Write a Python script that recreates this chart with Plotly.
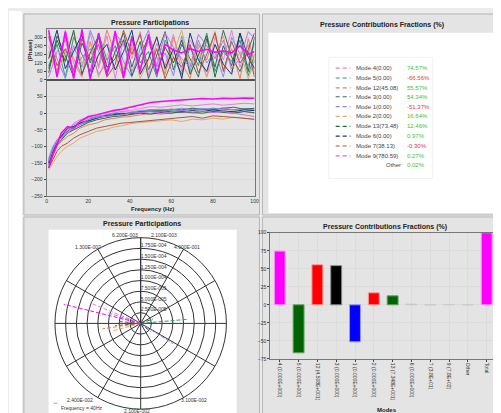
import plotly.graph_objects as go

W, H = 501, 413
def px(x): return x / W
def py(y): return 1 - y / H

FONT = "Liberation Sans"

# ---------------- data ----------------
modes = ["Mode 4(0.00)", "Mode 5(0.00)", "Mode 12(45.08)", "Mode 3(0.00)", "Mode 1(0.00)",
         "Mode 2(0.00)", "Mode 13(73.48)", "Mode 6(0.00)", "Mode 7(38.13)", "Mode 9(780.59)"]
mode_colors = ["#e77fd9", "#2f9a7a", "#e8825a", "#3f6464", "#8a8ae8",
               "#e0a870", "#1f6a40", "#22307e", "#a8583a", "#c070e8"]
fractions = [74.57, -66.56, 55.57, 54.34, -51.37, 16.64, 12.46, 0.97, -0.30, 0.27]
other_fraction = 0.02

phase_freq = [1, 5, 9, 13, 17, 21, 25, 29, 33, 37, 41, 45, 49, 53, 57, 61, 65, 69, 73, 77, 81, 85, 89, 93, 97, 100]
phase_total = [350, 20, 340, 10, 355, 5, 330, 30, 345, 15, 300, 60, 320, 40, 250, 210, 190, 220, 200, 215, 195, 205, 190, 240, 180, 200]
phase_modes = [
    [300, 40, 350, 120, 20, 330, 80, 310, 10, 290, 150, 340, 30, 260, 100, 320, 60, 280, 180, 20, 300, 140, 350, 90, 250, 40],
    [100, 250, 20, 300, 180, 60, 330, 140, 240, 50, 310, 120, 200, 20, 280, 160, 40, 230, 100, 330, 60, 200, 130, 280, 30, 180],
    [200, 60, 300, 150, 30, 270, 100, 350, 180, 10, 230, 80, 320, 160, 40, 300, 120, 10, 250, 140, 340, 70, 220, 10, 290, 120],
    [50, 310, 170, 20, 260, 120, 300, 40, 200, 330, 90, 270, 10, 180, 340, 70, 250, 150, 20, 290, 90, 350, 160, 60, 220, 330],
    [330, 150, 10, 240, 90, 350, 200, 60, 300, 130, 20, 220, 350, 90, 190, 30, 310, 60, 280, 120, 200, 20, 300, 180, 100, 260],
    [240, 30, 190, 330, 110, 260, 20, 170, 300, 80, 250, 10, 140, 310, 60, 190, 350, 100, 230, 20, 170, 310, 60, 200, 10, 140],
    [80, 280, 130, 350, 40, 190, 310, 90, 150, 280, 30, 160, 300, 50, 230, 120, 280, 40, 170, 310, 20, 240, 100, 330, 60, 300],
    [150, 350, 80, 200, 320, 20, 180, 250, 70, 200, 350, 40, 150, 300, 80, 220, 10, 330, 140, 60, 250, 110, 40, 330, 160, 80],
    [310, 100, 220, 70, 290, 140, 250, 20, 110, 350, 180, 320, 70, 220, 10, 160, 90, 250, 50, 180, 330, 60, 270, 120, 200, 20],
    [20, 200, 280, 60, 160, 220, 40, 120, 330, 250, 60, 180, 270, 100, 330, 230, 150, 90, 320, 240, 150, 280, 80, 150, 340, 290],
]

mag_freq = [1, 3, 5, 7, 10, 13, 16, 20, 24, 28, 32, 36, 40, 45, 50, 55, 60, 65, 70, 75, 80, 85, 90, 95, 100]
mag_total = [-165, -125, -95, -60, -40, -45, -25, -10, -5, 2, 8, 12, 18, 25, 32, 35, 38, 40, 42, 44, 43, 45, 44, 46, 45]
mag_modes = [
    [-150, -115, -80, -65, -55, -30, -20, -12, -5, 0, 5, 10, 8, 15, 20, 18, 22, 25, 22, 26, 28, 24, 27, 30, 28],
    [-140, -105, -85, -75, -60, -45, -35, -25, -15, -10, -5, -2, 0, 5, 8, 5, 10, 8, 12, 10, 15, 12, 10, 14, 12],
    [-160, -130, -100, -85, -70, -60, -45, -35, -30, -20, -15, -12, -10, -5, 0, -3, 2, 5, 0, 5, 3, 8, 2, 5, 0],
    [-145, -110, -90, -70, -55, -40, -30, -20, -10, -8, 0, -5, 2, 5, 10, 8, 12, 10, 15, 12, 10, 15, 18, 12, 15],
    [-135, -100, -80, -75, -50, -35, -25, -15, -10, -5, 0, 5, 3, 8, 10, 12, 10, 15, 10, 14, 12, 16, 10, 12, 8],
    [-170, -150, -130, -115, -100, -90, -75, -65, -55, -50, -42, -38, -32, -28, -25, -22, -20, -25, -18, -20, -15, -18, -12, -15, -20],
    [-155, -120, -95, -80, -60, -50, -40, -28, -20, -15, -10, -8, -5, 0, -3, 2, 0, 5, 2, 0, 5, 3, 0, 5, 2],
    [-150, -115, -90, -70, -45, -40, -30, -22, -15, -8, -5, 0, -2, 3, 5, 2, 6, 3, 8, 5, 10, 6, 5, 10, 8],
    [-165, -140, -115, -100, -90, -75, -65, -55, -45, -40, -35, -30, -28, -25, -20, -18, -15, -12, -10, -15, -8, -10, -12, -15, -18],
    [-145, -110, -85, -75, -60, -45, -35, -20, -12, -10, -8, -5, 0, 3, 5, 0, 5, 8, 3, 6, 2, 5, 0, -5, -10],
]

polar_r_total, polar_theta_total = 1.85e-4, 166
polar_r = [1.25e-4, 1.1e-4, 0.9e-4, 0.5e-4, 0.9e-4, 0.7e-4, 0.3e-4, 0.3e-4, 0.6e-4, 0.8e-4]
polar_theta = [158, 5, 188, 175, -32, 195, 20, -40, 185, 162]
radial_ticks = [2.5e-5, 5e-5, 7.5e-5, 1e-4, 1.25e-4, 1.5e-4, 1.75e-4]
radial_labels = ["2.500E-005", "5.000E-005", "7.500E-005", "1.000E-004", "1.250E-004", "1.500E-004", "1.750E-004"]

bar_labels = ["4 (0.000E+000)", "5 (0.000E+000)", "12 (4.508E+001)", "3 (0.000E+000)", "1 (0.000E+000)",
              "2 (0.000E+000)", "13 (7.348E+001)", "6 (0.000E+000)", "7 (3.8E+01)", "9 (7.8E+02)", "Other", "Total"]
bar_values = [74.57, -66.56, 55.57, 54.34, -51.37, 16.64, 12.46, 0.97, -0.30, 0.27, 0.02, 100.0]
bar_colors = ["#ff00ff", "#006400", "#ff0000", "#000000", "#0000ff", "#ff0000", "#006400",
              "#9a9a9a", "#9a9a9a", "#9a9a9a", "#9a9a9a", "#ff00ff"]
bar_edge = ["#ff99ff", "#66a066", "#ff9999", "#888888", "#9999ff", "#ff9999", "#66a066",
            "#cccccc", "#cccccc", "#cccccc", "#cccccc", "#ff99ff"]

# ---------------- figure ----------------
fig = go.Figure()

for vals, col in zip(phase_modes, mode_colors):
    fig.add_trace(go.Scatter(x=phase_freq, y=vals, mode="lines", line=dict(color=col, width=1),
                             xaxis="x", yaxis="y", showlegend=False, hoverinfo="skip"))
fig.add_trace(go.Scatter(x=phase_freq, y=phase_total, mode="lines", line=dict(color="#ff00ff", width=1.5),
                         xaxis="x", yaxis="y", showlegend=False, hoverinfo="skip"))
for vals, col in zip(mag_modes, mode_colors):
    fig.add_trace(go.Scatter(x=mag_freq, y=vals, mode="lines", line=dict(color=col, width=1),
                             xaxis="x2", yaxis="y2", showlegend=False, hoverinfo="skip"))
fig.add_trace(go.Scatter(x=mag_freq, y=mag_total, mode="lines", line=dict(color="#ff00ff", width=1.5),
                         xaxis="x2", yaxis="y2", showlegend=False, hoverinfo="skip"))

for r, t, col in zip(polar_r, polar_theta, mode_colors):
    fig.add_trace(go.Scatterpolar(r=[0, r], theta=[0, t], mode="lines",
                                  line=dict(color=col, width=1, dash="4px,2px"), showlegend=False))
fig.add_trace(go.Scatterpolar(r=[0, polar_r_total], theta=[0, polar_theta_total], mode="lines",
                              line=dict(color="#ff00ff", width=1, dash="4px,2px"), showlegend=False))
fig.add_trace(go.Scatterpolar(r=radial_ticks, theta=[90] * len(radial_ticks), mode="text",
                              text=radial_labels, textposition="top right",
                              textfont=dict(family=FONT, size=5, color="#333"), showlegend=False,
                              hoverinfo="skip"))

fig.add_trace(go.Bar(x=bar_labels, y=bar_values, marker=dict(color=bar_colors, line=dict(color=bar_edge, width=1)),
                     width=0.58, xaxis="x3", yaxis="y3", showlegend=False))

tickf = dict(family=FONT, size=5, color="#333")
grid = "#dcdcdc"

shapes = []
shapes.append(dict(type="rect", xref="paper", yref="paper", x0=0, x1=px(13), y0=0, y1=1,
                   fillcolor="white", line=dict(width=0), layer="below"))
for (x0, y0, x1, y1) in [(15, 3, 253, 207), (256, 3, 498, 207), (15, 209, 253, 413), (256, 209, 498, 413)]:
    shapes.append(dict(type="rect", xref="paper", yref="paper", x0=px(x0), x1=px(x1), y0=py(y1), y1=py(y0),
                       fillcolor="#e4e4e4", line=dict(color="#b5b5b5", width=1), layer="below"))
shapes.append(dict(type="rect", xref="paper", yref="paper", x0=px(262), x1=px(493), y0=py(205), y1=py(22),
                   fillcolor="white", line=dict(width=0), layer="below"))
shapes.append(dict(type="rect", xref="paper", yref="paper", x0=px(40), x1=px(230), y0=py(411), y1=py(222),
                   fillcolor="white", line=dict(width=0), layer="below"))
shapes.append(dict(type="rect", xref="paper", yref="paper", x0=px(323), x1=px(428), y0=py(170), y1=py(47),
                   fillcolor="white", line=dict(color="#f2f2f2", width=1), layer="below"))
shapes.append(dict(type="line", xref="paper", yref="paper", x0=px(38), x1=px(248), y0=py(70), y1=py(70),
                   line=dict(color="#444", width=1.5)))

annotations = []
def txt(x, y, s, size=6, color="#222", bold=False, xanchor="center", angle=0):
    annotations.append(dict(x=px(x), y=py(y), xref="paper", yref="paper", text=f"<b>{s}</b>" if bold else s,
                            showarrow=False, xanchor=xanchor, yanchor="middle", textangle=angle,
                            font=dict(family=FONT, size=size, color=color)))

txt(142, 12, "Pressure Participations", 7, bold=True)
txt(377, 14, "Pressure Contributions Fractions (%)", 7, bold=True)
txt(134, 216, "Pressure Participations", 7, bold=True)
txt(380, 219, "Pressure Contributions Fractions (%)", 7, bold=True)
txt(145, 201, "Frequency (Hz)", 6, bold=True)
txt(22, 40, "(Phase)", 6, bold=True, angle=-90)
txt(382, 405, "Modes", 6, bold=True)

row_y = [58, 68, 78, 87, 97, 107, 117, 127, 137, 147]
for yy, name, col, f in zip(row_y, modes, mode_colors, fractions):
    shapes.append(dict(type="line", xref="paper", yref="paper", x0=px(330), x1=px(345), y0=py(yy), y1=py(yy),
                       line=dict(color=col, width=1.2, dash="4px,3px")))
    txt(348, yy, name, 6, color="#444", xanchor="left")
    txt(400, yy, f"{f:.2f}%", 6, color="#3cbf3c" if f >= 0 else "#e23c3c", xanchor="left")
txt(398, 156, "Other", 6, color="#444", xanchor="right")
txt(400, 156, f"{other_fraction:.2f}%", 6, color="#3cbf3c", xanchor="left")

for (x, y, s) in [(117, 227, "6.200E-003"), (157, 227, "2.100E-003"), (80, 239, "1.300E-002"),
                  (180, 239, "4.000E-001"), (72, 395, "2.400E-002"), (187, 395, "3.100E-002"),
                  (129, 406, "2.100E-002")]:
    txt(x, y, s, 5, color="#333")
txt(50, 403, "Frequency = 40Hz", 5, color="#333", xanchor="left")
shapes.append(dict(type="line", xref="paper", yref="paper", x0=px(45), x1=px(49), y0=py(398), y1=py(398),
                   line=dict(color="#e77fd9", width=1)))

fig.update_layout(
    width=W, height=H, margin=dict(l=0, r=0, t=0, b=0),
    paper_bgcolor="#ececec", plot_bgcolor="white",
    shapes=shapes, annotations=annotations, showlegend=False,
    font=dict(family=FONT, size=6),
    xaxis=dict(domain=[px(38), px(248)], range=[0, 100], anchor="y", showticklabels=False,
               dtick=20, gridcolor=grid, showline=True, linecolor="#777", mirror=True, zeroline=False),
    yaxis=dict(domain=[py(70), py(18)], range=[0, 360], anchor="x", tickvals=[0, 60, 120, 180, 240, 300],
               tickfont=tickf, gridcolor=grid, showline=True, linecolor="#777", mirror=True, zeroline=False,
               ticks="outside", ticklen=2),
    xaxis2=dict(domain=[px(38), px(248)], range=[0, 100], anchor="y2", dtick=20, tickfont=tickf,
                gridcolor=grid, showline=True, linecolor="#777", mirror=True, zeroline=False,
                ticks="", ticklabelstandoff=0),
    yaxis2=dict(domain=[py(188), py(70)], range=[-250, 100], anchor="x2",
                tickvals=[-250, -200, -150, -100, -50, 0, 50], tickfont=tickf, gridcolor=grid,
                showline=True, linecolor="#777", mirror=True, zeroline=False, ticks="outside", ticklen=2),
    xaxis3=dict(domain=[px(264), px(492)], anchor="y3", type="category", tickangle=90, tickfont=tickf,
                gridcolor=grid, showgrid=True, showline=True, linecolor="#777", mirror=True,
                ticks="outside", ticklen=2),
    yaxis3=dict(domain=[py(353), py(225)], range=[-75, 100], anchor="x3", dtick=25, tickfont=tickf,
                gridcolor=grid, showline=True, linecolor="#777", mirror=True, zeroline=False,
                ticks="outside", ticklen=2),
    polar=dict(domain=dict(x=[px(46), px(220)], y=[py(404), py(230)]), bgcolor="white",
               radialaxis=dict(range=[0, 2e-4], tickvals=radial_ticks, angle=90, showticklabels=False,
                               gridcolor="#333", linecolor="#333", showline=True, ticks=""),
               angularaxis=dict(dtick=30, gridcolor="#333", linecolor="#333", showticklabels=False, ticks="")),
)

fig.write_html("out.html")
